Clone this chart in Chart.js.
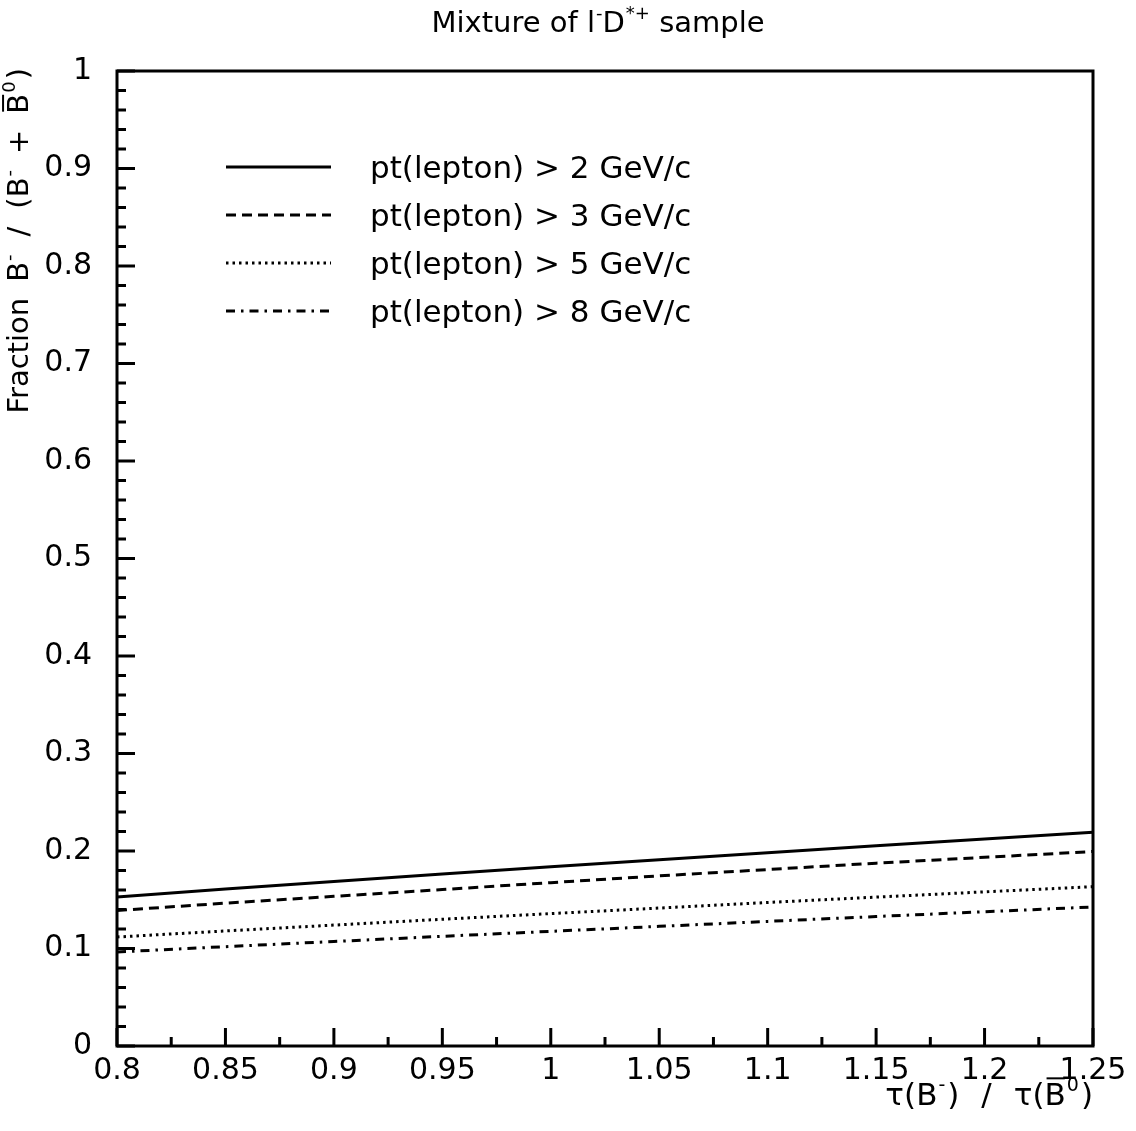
<!DOCTYPE html>
<html>
<head>
<meta charset="utf-8">
<script src="https://cdn.jsdelivr.net/npm/chart.js@4/dist/chart.umd.min.js"></script>
<style>
  html, body { margin: 0; padding: 0; background: #fff; }
  #wrap { width: 1136px; height: 1131px; position: relative; }
</style>
</head>
<body>
<div id="wrap"><canvas id="mixChart"></canvas></div>
<script>
// tau(B-)/tau(B0bar) ratio values where the curves were read
var lifetimeRatio = [0.8, 0.85, 0.9, 0.95, 1.0, 1.05, 1.1, 1.15, 1.2, 1.25];

// fraction B- / (B- + B0bar), one array per lepton pt cut
var fracPt2 = [0.1528, 0.1610, 0.1688, 0.1764, 0.1838, 0.1911, 0.1983, 0.2053, 0.2122, 0.2192];
var fracPt3 = [0.1390, 0.1465, 0.1535, 0.1605, 0.1675, 0.1745, 0.1810, 0.1875, 0.1935, 0.1995];
var fracPt5 = [0.1118, 0.1180, 0.1240, 0.1300, 0.1358, 0.1415, 0.1472, 0.1527, 0.1581, 0.1634];
var fracPt8 = [0.0964, 0.1019, 0.1072, 0.1125, 0.1176, 0.1227, 0.1278, 0.1328, 0.1377, 0.1426];

var seriesLabels = [
	'pt(lepton) > 2 GeV/c',
	'pt(lepton) > 3 GeV/c',
	'pt(lepton) > 5 GeV/c',
	'pt(lepton) > 8 GeV/c'
];
var seriesDash = [[], [10, 6], [2.5, 4], [9, 6, 2.5, 6]];

var FONT = 'DejaVu Sans';

function pairs(ys) {
	return ys.map(function(y, i){ return { x: lifetimeRatio[i], y: y }; });
}

// text pieces: {t, sup, bar} or {gap}
function richWidth(ctx, parts, size) {
	var w = 0;
	parts.forEach(function(p){
		if (p.gap) { w += p.gap; return; }
		ctx.font = (p.sup ? Math.round(size * 0.62) : size) + 'px "' + FONT + '"';
		w += ctx.measureText(p.t).width;
	});
	return w;
}
function drawRich(ctx, parts, x, y, size) {
	var cx = x;
	parts.forEach(function(p){
		if (p.gap) { cx += p.gap; return; }
		var s = p.sup ? Math.round(size * 0.62) : size;
		ctx.font = s + 'px "' + FONT + '"';
		var dy = p.sup ? -size * 0.45 : 0;
		ctx.fillText(p.t, cx, y + dy);
		var w = ctx.measureText(p.t).width;
		if (p.bar) {
			ctx.save();
			ctx.lineWidth = 2;
			ctx.beginPath();
			ctx.moveTo(cx + 2, y - size * 0.86);
			ctx.lineTo(cx + w - 1, y - size * 0.86);
			ctx.stroke();
			ctx.restore();
		}
		cx += w;
	});
}

var rootStyle = {
	id: 'rootStyle',
	beforeDraw: function(chart) {
		var ctx = chart.ctx;
		ctx.save();
		ctx.fillStyle = '#fff';
		ctx.fillRect(0, 0, chart.width, chart.height);
		ctx.restore();
	},
	afterDatasetsDraw: function(chart) {
		var ctx = chart.ctx, a = chart.chartArea;
		var xs = chart.scales.x, ys = chart.scales.y;
		ctx.save();
		ctx.strokeStyle = '#000';
		ctx.fillStyle = '#000';
		ctx.lineWidth = 3;
		ctx.strokeRect(a.left, a.top, a.right - a.left, a.bottom - a.top);

		// inward ticks
		var i, v, p;
		for (i = 0; i <= 50; i++) {
			v = i * 0.02;
			p = ys.getPixelForValue(v);
			ctx.beginPath();
			ctx.moveTo(a.left, p);
			ctx.lineTo(a.left + (i % 5 === 0 ? 18 : 9), p);
			ctx.stroke();
		}
		for (i = 0; i <= 18; i++) {
			v = 0.8 + i * 0.025;
			p = xs.getPixelForValue(v);
			ctx.beginPath();
			ctx.moveTo(p, a.bottom);
			ctx.lineTo(p, a.bottom - (i % 2 === 0 ? 18 : 9));
			ctx.stroke();
		}

		// legend
		ctx.textBaseline = 'alphabetic';
		ctx.textAlign = 'left';
		chart.data.datasets.forEach(function(ds, k){
			var yy = 167 + k * 48;
			ctx.save();
			ctx.lineWidth = ds.borderWidth;
			ctx.setLineDash(ds.borderDash);
			ctx.beginPath();
			ctx.moveTo(226, yy);
			ctx.lineTo(331, yy);
			ctx.stroke();
			ctx.restore();
			ctx.font = '31px "' + FONT + '"';
			ctx.fillText(ds.label, 370, yy + 11);
		});

		// title
		var title = [
			{t: 'Mixture of l'}, {gap: 1}, {t: '-', sup: true}, {t: 'D'}, {gap: 1}, {t: '*+', sup: true}, {t: ' sample'}
		];
		var tw = richWidth(ctx, title, 29);
		drawRich(ctx, title, 598 - tw / 2, 32, 29);

		// x axis title, right aligned at the frame edge
		var xt = [
			{t: '\u03c4('}, {t: 'B'}, {gap: 1}, {t: '-', sup: true}, {gap: 2}, {t: ')'}, {gap: 22}, {t: '/'}, {gap: 22},
			{t: '\u03c4('}, {t: 'B', bar: true}, {gap: 1}, {t: '0', sup: true}, {gap: 2}, {t: ')'}
		];
		var xw = richWidth(ctx, xt, 31);
		drawRich(ctx, xt, a.right - xw, 1105, 31);

		// y axis title, rotated, ending at the top of the frame
		var yt = [
			{t: 'Fraction'}, {gap: 16}, {t: 'B'}, {gap: 1}, {t: '-', sup: true}, {gap: 18}, {t: '/'}, {gap: 18},
			{t: '('}, {t: 'B'}, {gap: 1}, {t: '-', sup: true}, {gap: 16}, {t: '+'}, {gap: 16},
			{t: 'B', bar: true}, {gap: 1}, {t: '0', sup: true}, {gap: 2}, {t: ')'}
		];
		var yw = richWidth(ctx, yt, 29);
		ctx.translate(28, a.top - 3 + yw);
		ctx.rotate(-Math.PI / 2);
		drawRich(ctx, yt, 0, 0, 29);
		ctx.restore();
	}
};

function mkSet(idx, ys) {
	return {
		label: seriesLabels[idx],
		data: pairs(ys),
		borderColor: '#000',
		borderWidth: 3,
		borderDash: seriesDash[idx],
		borderCapStyle: 'butt',
		pointRadius: 0,
		tension: 0,
		fill: false
	};
}

window.addEventListener('load', function(){
	var ctx = document.getElementById('mixChart').getContext('2d');
	new Chart(ctx, {
		type: 'line',
		data: {
			datasets: [mkSet(0, fracPt2), mkSet(1, fracPt3), mkSet(2, fracPt5), mkSet(3, fracPt8)]
		},
		options: {
			responsive: true,
			maintainAspectRatio: false,
			animation: false,
			events: [],
			layout: { padding: { left: 0, top: 71, right: 43, bottom: 0 } },
			plugins: {
				legend: { display: false },
				title: { display: false },
				tooltip: { enabled: false }
			},
			scales: {
				x: {
					type: 'linear',
					min: 0.8,
					max: 1.25,
					grid: { display: false, drawTicks: false },
					border: { display: false },
					afterFit: function(s){ s.height = 85; },
					ticks: {
						stepSize: 0.05,
						padding: 7,
						color: '#000',
						maxRotation: 0,
						autoSkip: false,
						font: { family: FONT, size: 30 },
						callback: function(v){ return String(+v.toFixed(3)); }
					}
				},
				y: {
					type: 'linear',
					min: 0,
					max: 1,
					grid: { display: false, drawTicks: false },
					border: { display: false },
					afterFit: function(s){ s.width = 117; },
					ticks: {
						stepSize: 0.1,
						padding: 25,
						color: '#000',
						font: { family: FONT, size: 30 },
						callback: function(v){ return String(+v.toFixed(2)); }
					}
				}
			}
		},
		plugins: [rootStyle]
	});
});
</script>
</body>
</html>
